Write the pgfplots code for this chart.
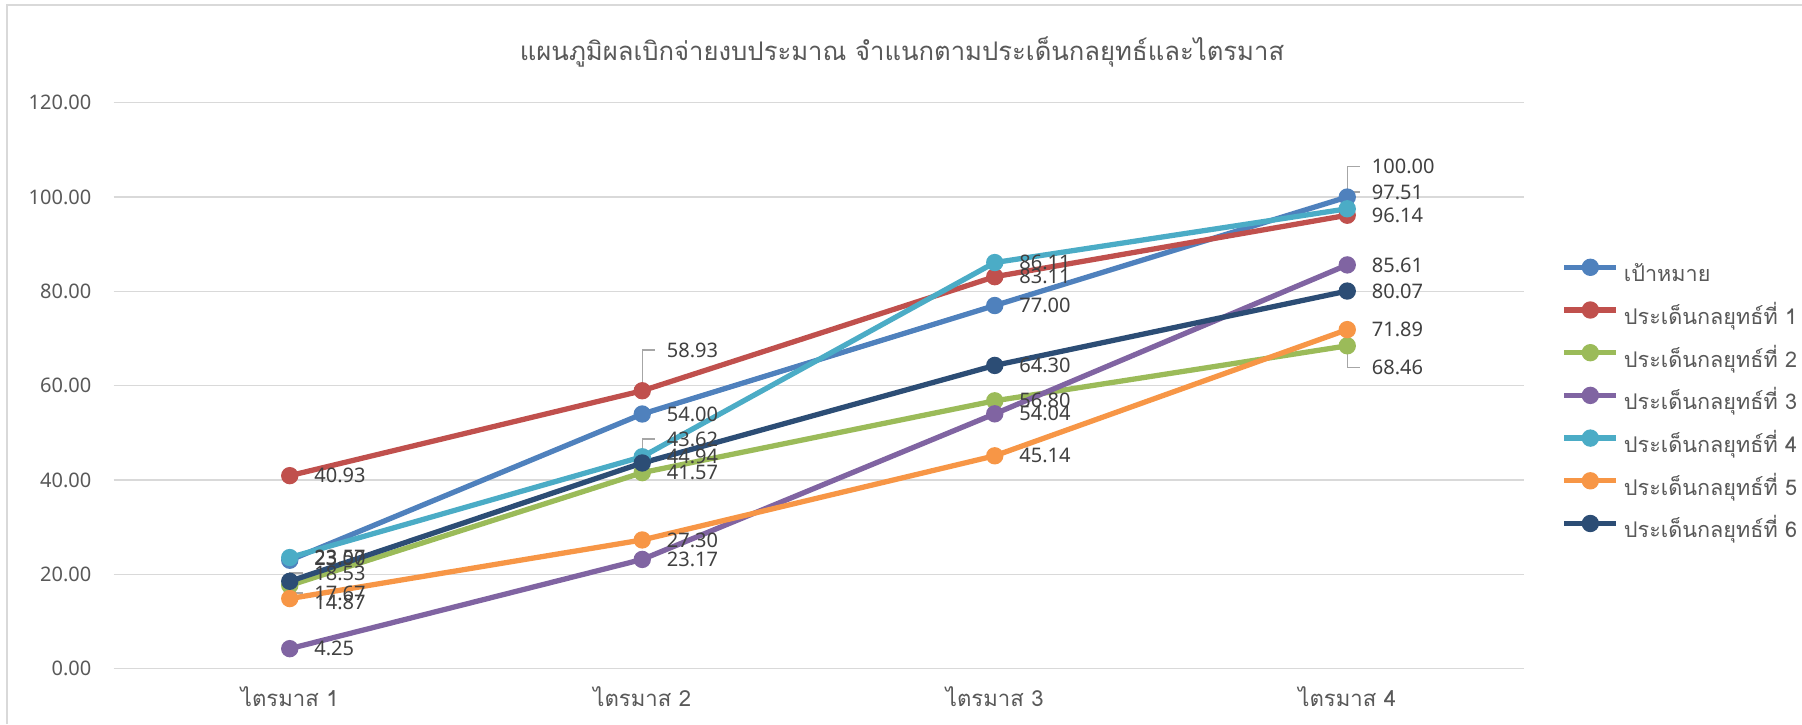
\documentclass[border=0pt]{standalone}
\usepackage{fontspec}
\setmainfont{Noto Sans}
\newfontfamily\thaifont[Script=Thai]{Loma}
\usepackage{pgfplots}
\usepackage{pgfplotstable}
\pgfplotsset{compat=1.18}
\definecolor{cT}{HTML}{4F81BD}
\definecolor{cA}{HTML}{C0504D}
\definecolor{cB}{HTML}{9BBB59}
\definecolor{cC}{HTML}{8064A2}
\definecolor{cD}{HTML}{4BACC6}
\definecolor{cE}{HTML}{F79646}
\definecolor{cF}{HTML}{2C4D75}
\definecolor{cgrid}{HTML}{D9D9D9}
\definecolor{ctick}{HTML}{595959}
\definecolor{clab}{HTML}{404040}
\definecolor{clead}{HTML}{A6A6A6}

\pgfplotstableread{
x y dy
0 23.00 0.2
1 54.00 0
2 77.00 0
3 100.00 3.03
}\target
\pgfplotstableread{
x y dy
0 40.93 0
1 58.93 4.07
2 83.11 0
3 96.14 0
}\sA
\pgfplotstableread{
x y dy
0 17.67 -0.77
1 41.57 0
2 56.80 0
3 68.46 -2.19
}\sB
\pgfplotstableread{
x y dy
0 4.25 0
1 23.17 0
2 54.04 0
3 85.61 0
}\sC
\pgfplotstableread{
x y dy
0 23.57 0
1 44.94 0
2 86.11 0
3 97.51 1.67
}\sD
\pgfplotstableread{
x y dy
0 14.87 -0.34
1 27.30 0
2 45.14 0
3 71.89 0
}\sE
\pgfplotstableread{
x y dy
0 18.53 0.83
1 43.62 2.4
2 64.30 0
3 80.07 0
}\sF

\begin{document}
\begin{tikzpicture}
\path[use as bounding box, fill=white] (0,0) rectangle (180.2mm,72.4mm);
\draw[cgrid, line width=0.3pt] (0.7mm,0) -- (0.7mm,71.9mm) -- (180.2mm,71.9mm);
\node[anchor=base, font=\thaifont\fontsize{7.3}{9}\selectfont, text=ctick] at (90.2mm,66.3mm)
  {แผนภูมิผลเบิกจ่ายงบประมาณ จำแนกตามประเด็นกลยุทธ์และไตรมาส};
\begin{axis}[
  at={(11.35mm,5.53mm)}, anchor=south west,
  width=141mm, height=56.6mm, scale only axis,
  xmin=-0.5, xmax=3.5, ymin=0, ymax=120,
  xtick={0,1,2,3},
  xticklabels={ไตรมาส 1,ไตรมาส 2,ไตรมาส 3,ไตรมาส 4},
  ytick={0,20,...,120},
  ymajorgrids,
  major grid style={draw=cgrid, line width=0.4pt},
  axis line style={draw=none},
  tick style={draw=none},
  clip=false,
  yticklabel style={font=\fontsize{5.7}{7}\selectfont, text=ctick, anchor=east, inner sep=0pt, xshift=-2.15mm,
    /pgf/number format/.cd, fixed, fixed zerofill, precision=2, assume math mode=true},
  xticklabel style={font=\thaifont\fontsize{6.3}{7}\selectfont, text=ctick, anchor=base, inner sep=0pt, yshift=-3.8mm},
  every axis plot/.append style={line width=1.5pt, mark=*, mark size=0.6mm, mark options={solid}},
  legend style={at={(1.0266,0.729)}, anchor=north west, draw=none, fill=none, inner sep=0pt,
    row sep=0.97mm, column sep=0.5mm,
    font=\thaifont\fontsize{6.15}{8}\selectfont, text=ctick,
    nodes={inner sep=0pt, text height=2.5mm, text depth=0.8mm}},
  legend cell align=left,
  legend image code/.code={\draw[#1, mark repeat=2, mark phase=2] plot coordinates {(0mm,0.6mm) (2.6mm,0.6mm) (5.2mm,0.6mm)};},
  lab/.style={
    nodes near coords={\pgfmathprintnumber[fixed,fixed zerofill,precision=2,assume math mode=true]{\pgfplotspointmeta}},
    visualization depends on={\thisrow{dy} \as \dy},
    every node near coord/.append style={anchor=west, inner sep=0pt, xshift=2.2mm, yshift={\dy*1mm},
      font=\fontsize{5.7}{7}\selectfont, text=clab}},
]
% leader lines
\draw[clead, line width=0.4pt] ([yshift=0.6mm]axis cs:0,18.53) |- ([xshift=1.3mm,yshift=0.83mm]axis cs:0,18.53);
\draw[clead, line width=0.4pt] ([yshift=-0.6mm]axis cs:0,17.67) |- ([xshift=1.3mm,yshift=-0.77mm]axis cs:0,17.67);
\draw[clead, line width=0.4pt] ([yshift=0.6mm]axis cs:1,58.93) |- ([xshift=1.3mm,yshift=4.07mm]axis cs:1,58.93);
\draw[clead, line width=0.4pt] ([yshift=0.6mm]axis cs:1,43.62) |- ([xshift=1.3mm,yshift=2.4mm]axis cs:1,43.62);
\draw[clead, line width=0.4pt] ([yshift=0.6mm]axis cs:3,100) |- ([xshift=1.3mm,yshift=3.03mm]axis cs:3,100);
\draw[clead, line width=0.4pt] ([yshift=0.6mm]axis cs:3,97.51) |- ([xshift=1.3mm,yshift=1.67mm]axis cs:3,97.51);
\draw[clead, line width=0.4pt] ([yshift=-0.6mm]axis cs:3,68.46) |- ([xshift=1.3mm,yshift=-2.19mm]axis cs:3,68.46);

\addplot[color=cT, lab] table[x=x,y=y] {\target};
\addlegendentry{เป้าหมาย}
\addplot[color=cA, lab] table[x=x,y=y] {\sA};
\addlegendentry{ประเด็นกลยุทธ์ที่ 1}
\addplot[color=cB, lab] table[x=x,y=y] {\sB};
\addlegendentry{ประเด็นกลยุทธ์ที่ 2}
\addplot[color=cC, lab] table[x=x,y=y] {\sC};
\addlegendentry{ประเด็นกลยุทธ์ที่ 3}
\addplot[color=cD, lab] table[x=x,y=y] {\sD};
\addlegendentry{ประเด็นกลยุทธ์ที่ 4}
\addplot[color=cE, lab] table[x=x,y=y] {\sE};
\addlegendentry{ประเด็นกลยุทธ์ที่ 5}
\addplot[color=cF, lab] table[x=x,y=y] {\sF};
\addlegendentry{ประเด็นกลยุทธ์ที่ 6}
\end{axis}
\end{tikzpicture}
\end{document}
